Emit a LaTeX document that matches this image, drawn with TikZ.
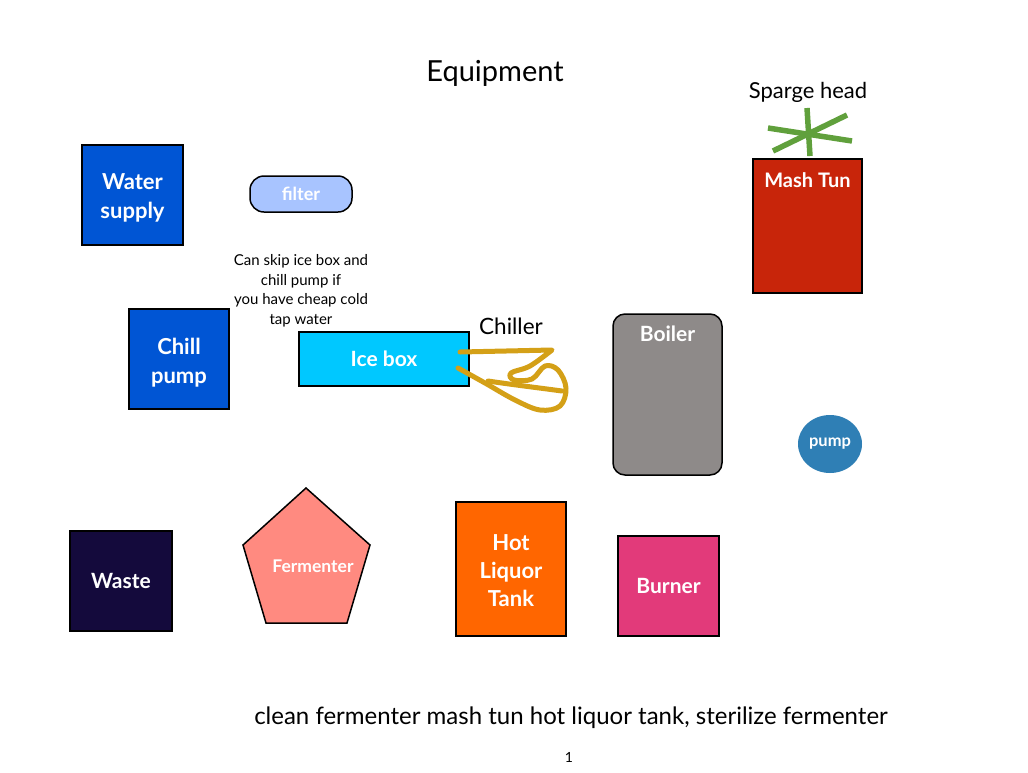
\documentclass[tikz,border=0pt]{standalone}
\usepackage{fontspec}
\setmainfont{Lato}
\usetikzlibrary{shapes.geometric}
\definecolor{wblue}{RGB}{0,85,212}
\definecolor{filterblue}{RGB}{168,196,255}
\definecolor{icecyan}{RGB}{0,200,255}
\definecolor{boilergray}{RGB}{142,138,137}
\definecolor{pumpblue}{RGB}{47,127,181}
\definecolor{mashred}{RGB}{200,37,10}
\definecolor{wastenavy}{RGB}{20,10,60}
\definecolor{fermpink}{RGB}{255,138,128}
\definecolor{hltorange}{RGB}{255,102,0}
\definecolor{burnerpink}{RGB}{226,58,122}
\definecolor{chillgold}{RGB}{212,160,23}
\definecolor{spargegreen}{RGB}{96,160,60}
\begin{document}
\begin{tikzpicture}[x=1pt,y=-1pt,
  box/.style={draw=black, line width=1.5pt, inner sep=0pt, text=white, align=center, font=\fontsize{22}{29}\selectfont\bfseries},
  boxlabel/.style={text=white, align=center, inner sep=0pt, font=\fontsize{22}{29}\selectfont\bfseries},
  plain/.style={inner sep=0pt, align=center, text=black},
  coil/.style={draw=chillgold, line width=5pt, line cap=round, line join=round},
  spray/.style={draw=spargegreen, line width=5.5pt}]
\useasboundingbox (0,0) rectangle (1028,772);
\fill[white] (0,0) rectangle (1028,772);

\node[plain, font=\fontsize{29}{33}\selectfont] (title) at (495,73) {Equipment};

\node[box, fill=wblue, minimum width=101pt, minimum height=100pt,
  label={[boxlabel, yshift=-3pt]center:{Water\\supply}}] (water) at (132.5,195) {};
\node[box, fill=filterblue, rounded corners=14pt, minimum width=102pt, minimum height=36pt, font=\fontsize{18}{20}\selectfont\bfseries] (filter) at (301,194) {filter};
\node[box, fill=wblue, minimum width=100pt, minimum height=100pt,
  label={[boxlabel, yshift=-4pt]center:{Chill\\pump}}] (chill) at (179,359) {};
\node[plain, font=\fontsize{15}{19.5}\selectfont] (note) at (301,291) {Can skip ice box and\\chill pump if\\you have cheap cold\\tap water};
\node[box, fill=icecyan, minimum width=170pt, minimum height=54pt, font=\fontsize{21}{24}\selectfont\bfseries] (ice) at (384,359) {Ice box};
\node[plain, font=\fontsize{22.5}{26}\selectfont] (chiller) at (511,326) {Chiller};

% chiller coil
\draw[coil] (460,352) -- (552,350) -- plot[smooth, tension=0.6] coordinates {(552,350) (530,366) (511,373) (514,380) (532,379) (545,366) (558,370) (566,388) (560,406) (540,410) (515,400) (485,383) (458,368)};
\draw[coil] (488,381) .. controls (515,385) and (540,388) .. (562,391);

\node[box, fill=boilergray, rounded corners=12pt, minimum width=109pt, minimum height=161pt,
  label={[boxlabel, font=\fontsize{21}{24}\selectfont\bfseries, anchor=north, yshift=-12pt]north:Boiler}] (boiler) at (667.5,394.5) {};
\node[ellipse, fill=pumpblue, minimum width=64pt, minimum height=58pt, inner sep=0pt, text=white, font=\fontsize{16.5}{20}\selectfont\bfseries] (pump) at (830,444) {pump};

\node[box, fill=mashred, minimum width=109pt, minimum height=134pt,
  label={[boxlabel, font=\fontsize{20}{24}\selectfont\bfseries, anchor=north, yshift=-14pt]north:Mash Tun}] (mash) at (807.5,226) {};
\node[plain, font=\fontsize{22}{26}\selectfont] (sparge) at (808,92) {Sparge head};
\coordinate (head) at (809,134);
\draw[spray] (807,108) -- (810,156);
\draw[spray] (768,128) -- (852,141);
\draw[spray] (773,151) -- (847,115);

\node[box, fill=wastenavy, minimum width=102pt, minimum height=100pt, font=\fontsize{21}{24}\selectfont\bfseries] (waste) at (121,581) {Waste};
\draw[draw=black, line width=1.5pt, fill=fermpink, line join=miter]
  (306,488) -- (370,545) -- (347,623) -- (266,623) -- (243,545) -- cycle;
\node[plain, text=white, font=\fontsize{17.5}{20}\selectfont\bfseries] (ferm) at (313,566) {Fermenter};
\node[box, fill=hltorange, minimum width=110pt, minimum height=134pt,
  label={[boxlabel, font=\fontsize{22}{28}\selectfont\bfseries, yshift=-2pt]center:{Hot\\Liquor\\Tank}}] (hlt) at (511,569) {};
\node[box, fill=burnerpink, minimum width=101pt, minimum height=100pt, font=\fontsize{21}{24}\selectfont\bfseries] (burner) at (668.5,586) {Burner};

\node[plain, font=\fontsize{24}{28}\selectfont] (bottom) at (571,718) {clean fermenter mash tun hot liquor tank, sterilize fermenter};
\node[plain, font=\fontsize{14}{16}\selectfont] (page) at (569,757) {1};
\end{tikzpicture}
\end{document}
